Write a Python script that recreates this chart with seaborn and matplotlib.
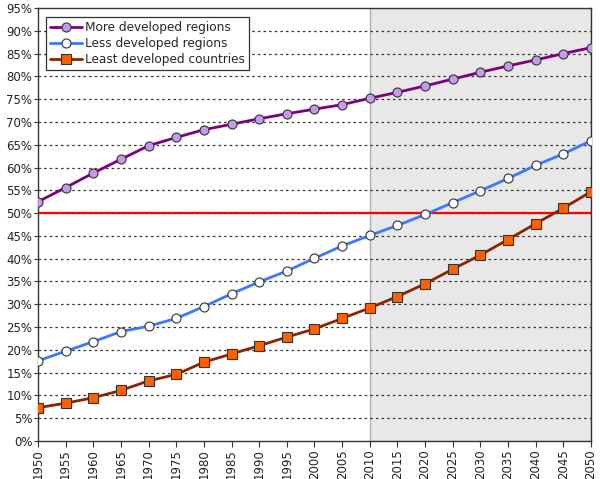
import pandas as pd
import matplotlib.pyplot as plt
import seaborn as sns
from matplotlib.ticker import PercentFormatter, MultipleLocator

years = list(range(1950, 2051, 5))

more_developed = [52.5, 55.6, 58.8, 61.8, 64.8, 66.6, 68.3, 69.5, 70.7, 71.8,
                  72.8, 73.8, 75.2, 76.5, 77.9, 79.4, 80.9, 82.3, 83.6, 85.0, 86.3]
less_developed = [17.6, 19.7, 21.8, 24.0, 25.2, 26.9, 29.5, 32.3, 34.9, 37.3,
                  40.1, 42.8, 45.1, 47.3, 49.7, 52.3, 54.9, 57.6, 60.5, 63.0, 65.9]
least_developed = [7.3, 8.3, 9.5, 11.1, 13.2, 14.6, 17.3, 19.1, 20.9, 22.8,
                   24.6, 26.9, 29.2, 31.7, 34.5, 37.7, 40.8, 44.2, 47.7, 51.1, 54.7]

series_names = ["More developed regions", "Less developed regions", "Least developed countries"]

df = pd.DataFrame({
    "year": years * 3,
    "value": more_developed + less_developed + least_developed,
    "series": [series_names[0]] * len(years) + [series_names[1]] * len(years)
              + [series_names[2]] * len(years),
})

sns.set_style("white")
plt.rcParams["font.family"] = ["DejaVu Sans"]

fig = plt.figure(figsize=(6.0, 4.79), dpi=100)
ax = fig.add_axes([0.0633, 0.0793, 0.9217, 0.904])

# forecast period shading
ax.axvspan(2010, 2050, facecolor="#e8e8e8", edgecolor="#b0b0b0", lw=1, zorder=0)

# dotted horizontal grid
for yv in range(5, 95, 5):
    ax.axhline(yv, color="#333333", lw=0.9, ls=(0, (2, 2.5)), zorder=1)

styles = {
    series_names[0]: dict(color="#7f007f", marker="o", mfc="#c49be8", ms=6.5),
    series_names[1]: dict(color="#3a78ff", marker="o", mfc="white", ms=6.5),
    series_names[2]: dict(color="#8b2500", marker="s", mfc="#ff6000", ms=6.5),
}

for name in series_names:
    st = styles[name]
    sub = df[df["series"] == name]
    sns.lineplot(data=sub, x="year", y="value", ax=ax, color=st["color"], lw=2.0,
                 marker=st["marker"], markersize=st["ms"], markerfacecolor=st["mfc"],
                 markeredgecolor="#333333", markeredgewidth=0.8, label=name, zorder=3)

ax.axhline(50, color="#ff0000", lw=1.6, zorder=2)

ax.set_xlim(1950, 2050)
ax.set_ylim(0, 95)
ax.set_xticks(years)
ax.set_xticklabels([str(y) for y in years], rotation=90, fontsize=8.5, color="#222222")
ax.yaxis.set_major_locator(MultipleLocator(5))
ax.yaxis.set_major_formatter(PercentFormatter(decimals=0))
ax.tick_params(axis="y", labelsize=8.5, labelcolor="#222222", length=3, width=0.8,
               left=True, color="#333333", pad=1)
ax.tick_params(axis="x", length=4, width=0.8, bottom=True, color="#333333", pad=2)
ax.set_xlabel("")
ax.set_ylabel("")

for sp in ax.spines.values():
    sp.set_color("#333333")
    sp.set_linewidth(1.0)

leg = ax.legend(loc="upper left", bbox_to_anchor=(0.01, 0.985), fontsize=8.7,
                frameon=True, fancybox=False, borderpad=0.35, labelspacing=0.25,
                handlelength=2.6, handletextpad=0.3, borderaxespad=0.2)
leg.get_frame().set_edgecolor("#333333")
leg.get_frame().set_linewidth(0.9)
leg.get_frame().set_alpha(1)

fig.savefig("out.png", dpi=100)
